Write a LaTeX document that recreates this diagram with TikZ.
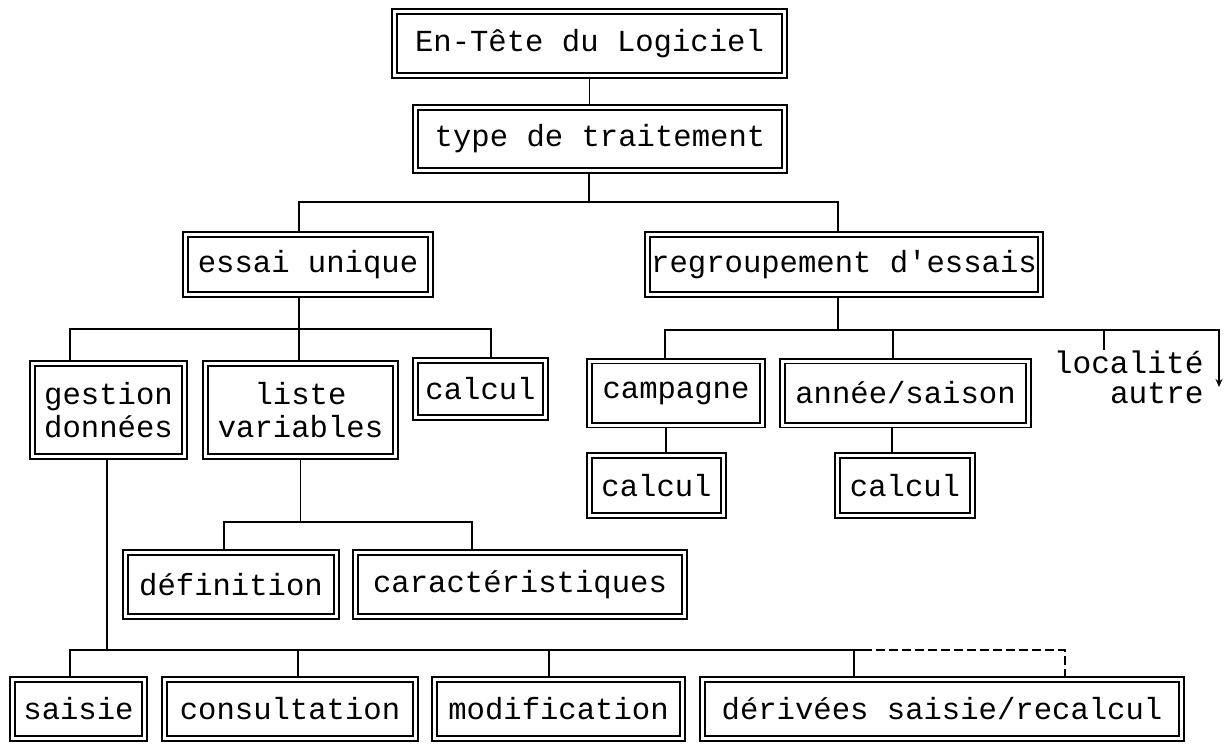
\documentclass[tikz,border=0pt]{standalone}
\usepackage{fontspec}
\setmonofont{Liberation Mono}
\usetikzlibrary{backgrounds,arrows.meta}
\tikzset{
  bx/.style={draw, double, double distance=1.5pt, line width=0.85pt, fill=white,
    inner sep=0pt, align=center, font=\ttfamily\fontsize{15.3}{16.5}\selectfont},
  lbl/.style={inner sep=0pt, font=\ttfamily\fontsize{15.6}{16.5}\selectfont},
  cn/.style={line width=0.7pt},
  cnb/.style={line width=1.1pt}
}
\begin{document}
\begin{tikzpicture}[x=0.5pt,y=-0.5pt]
\useasboundingbox (0,0) rectangle (1229,743);
% boxes
\node[bx, minimum width=195pt, minimum height=32pt] (head) at (589.5,43.5) {En-Tête du Logiciel};
\node[bx, minimum width=184.5pt, minimum height=31.5pt] (type) at (600,139) {type de traitement};
\node[bx, minimum width=122.5pt, minimum height=30pt] (essai) at (308,264.5) {essai unique};
\node[bx, minimum width=196.5pt, minimum height=30pt] (regroup) at (844,264.5) {regroupement d'essais};
\node[bx, minimum width=76pt, minimum height=46.5pt] (gestion) at (108.5,410) {gestion\\données};
\node[bx, minimum width=95pt, minimum height=46.5pt] (liste) at (300.5,410) {liste\\variables};
\node[bx, minimum width=65pt, minimum height=28.5pt] (calc1) at (480.5,389) {calcul};
\node[bx, minimum width=86.5pt, minimum height=32pt] (camp) at (676,393) {campagne};
\node[bx, minimum width=123pt, minimum height=32pt] (annee) at (905.5,393) {année/saison};
\node[bx, minimum width=67pt, minimum height=30pt] (calc2) at (656.5,485.5) {calcul};
\node[bx, minimum width=67.5pt, minimum height=30pt] (calc3) at (905,485.5) {calcul};
\node[bx, minimum width=105.5pt, minimum height=32pt] (def) at (231,584.5) {définition};
\node[bx, minimum width=164.5pt, minimum height=32pt] (carac) at (520,584.5) {caractéristiques};
\node[bx, minimum width=66pt, minimum height=29.5pt] (saisie) at (78.5,709) {saisie};
\node[bx, minimum width=125.5pt, minimum height=29.5pt] (consult) at (290,709) {consultation};
\node[bx, minimum width=124pt, minimum height=29.5pt] (modif) at (558.5,709) {modification};
\node[bx, minimum width=239.5pt, minimum height=29.5pt] (deriv) at (942,709) {dérivées saisie/recalcul};
\node[lbl, anchor=east] (loc) at (1204,362) {localité};
\node[lbl, anchor=east] (autre) at (1204,393) {autre};
% connectors
\begin{scope}[on background layer]
\fill[white] (0,0) rectangle (1229,743);
\draw[cn] (head.south) -- (head.south |- type.north);
\draw[cn] (589,0 |- type.south) -- (589,202);
\draw[cn] (299,0 |- essai.north) |- (838,202) -- (838,0 |- regroup.north);
% essai unique
\draw[cn] (299,0 |- essai.south) -- (299,0 |- liste.north);
\draw[cn] (70,0 |- gestion.north) |- (491,329) -- (491,0 |- calc1.north);
% liste variables
\draw[cn] (liste.south) -- (liste.south |- 0,522);
\draw[cn] (224,0 |- def.north) |- (472,522) -- (472,0 |- carac.north);
% gestion donnees
\draw[cnb] (107,0 |- gestion.south) -- (107,650);
\draw[cnb] (70,0 |- saisie.north) |- (863,650);
\draw[cn, dash pattern=on 4.5pt off 2pt] (863,650) -| (1065,0 |- deriv.north);
\draw[cn] (298,650) -- (298,0 |- consult.north);
\draw[cn] (549,650) -- (549,0 |- modif.north);
\draw[cn] (854,650) -- (854,0 |- deriv.north);
% regroupement
\draw[cn] (838,0 |- regroup.south) -- (838,330);
\draw[cn, -{Stealth[length=4pt,width=3.5pt]}] (665,0 |- camp.north) |- (1219,330) -- (1219,387);
\draw[cn] (893,330) -- (893,0 |- annee.north);
\draw[cn] (1104,330) -- (1104,0 |- loc.north);
\draw[cn] (666,0 |- camp.south) -- (666,0 |- calc2.north);
\draw[cn] (892,0 |- annee.south) -- (892,0 |- calc3.north);
\end{scope}
\end{tikzpicture}
\end{document}
